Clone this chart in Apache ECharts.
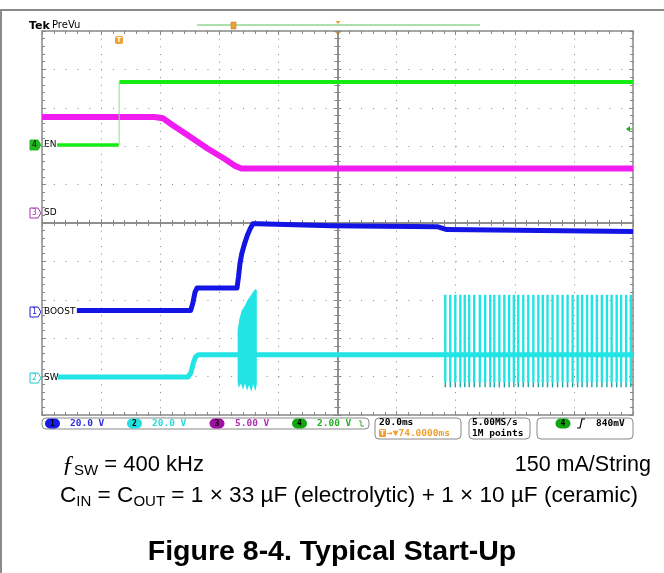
<!DOCTYPE html>
<html>
<head>
<meta charset="utf-8">
<script src="https://cdn.jsdelivr.net/npm/echarts@6/dist/echarts.min.js"></script>
<style>
html, body { margin: 0; padding: 0; background: #fff; }
#chart { width: 664px; height: 573px; }
</style>
</head>
<body>
<div id="chart"></div>
<script>
// x = ms from left edge of screen (20 ms/div, 10 div), y = divisions from bottom (10 div)
var enLow = [[5.1, 7.03], [26.0, 7.03]];
var enEdge = [[26.1, 7.03], [26.1, 8.67]];
var enHigh = [[26.2, 8.67], [200, 8.67]];

var sdTrace = [[0, 7.76], [38, 7.76], [40.9, 7.73], [44, 7.56], [50, 7.25], [56, 6.94],
  [62, 6.66], [65.5, 6.48], [67.5, 6.42], [100, 6.42], [200, 6.42]];

var boostTrace = [[11.8, 2.72], [50.3, 2.72], [51.0, 2.9], [51.8, 3.2], [52.5, 3.31],
  [66.0, 3.31], [66.5, 3.6], [67.0, 3.95], [67.6, 4.2], [68.5, 4.45], [69.5, 4.68],
  [70.5, 4.86], [71.4, 4.98], [73, 4.98], [98, 4.93], [134, 4.9], [137, 4.83], [200, 4.78]];

var swTrace = [[5.4, 0.99], [49.4, 0.99], [50.4, 1.1], [51.2, 1.35], [52.0, 1.52],
  [53, 1.57], [200, 1.57]];

var swBurstTop = [[66.2, 2.2], [66.8, 2.5], [67.6, 2.72], [68.7, 2.85], [69.6, 3.0],
  [70.4, 3.08], [71.4, 3.2], [72.2, 3.28], [72.7, 3.25]];
var swBurstBottom = [[72.7, 0.8], [72.2, 0.62], [71.5, 0.8], [70.8, 0.6], [70.1, 0.78],
  [69.4, 0.64], [68.7, 0.82], [68.0, 0.66], [67.3, 0.82], [66.6, 0.7], [66.2, 0.86]];

var swPulseTimes = [136.4, 138.1, 139.8, 141.5, 143.0, 144.5, 146.2, 148.1, 149.9, 151.6,
  153.0, 154.7, 156.4, 158.0, 159.6, 161.1, 162.8, 164.5, 166.2, 167.9, 169.4, 171.0,
  172.7, 174.4, 176.1, 177.8, 179.5, 181.2, 182.7, 184.4, 186.0, 187.7, 189.4, 191.1,
  192.7, 194.4, 195.9, 197.6, 199.2];
var swPulseLevels = [0.85, 3.13];

var frameColor = "#888";

function xFrame(pos, offset, inside, split) {
  return {
    type: "value", min: 0, max: 200, interval: 20, position: pos, offset: offset,
    axisLine: { show: true, onZero: false, lineStyle: { color: frameColor, width: 1.5 } },
    axisTick: { show: true, inside: inside, length: 4, lineStyle: { color: frameColor } },
    minorTick: { show: true, splitNumber: 5, length: 3, lineStyle: { color: frameColor } },
    axisLabel: { show: false },
    splitLine: { show: split, lineStyle: { color: "#8c8c8c", width: 1, type: [1, 6.68] } },
  };
}
function yFrame(pos, offset, inside, split) {
  return {
    type: "value", min: 0, max: 10, interval: 1, position: pos, offset: offset,
    axisLine: { show: true, onZero: false, lineStyle: { color: frameColor, width: 1.5 } },
    axisTick: { show: true, inside: inside, length: 4, lineStyle: { color: frameColor } },
    minorTick: { show: true, splitNumber: 5, length: 3, lineStyle: { color: frameColor } },
    axisLabel: { show: false },
    splitLine: { show: split, lineStyle: { color: "#8c8c8c", width: 1, type: [1, 10.82] } },
  };
}

function trace(data, color, width, z) {
  return {
    type: "line", data: data, symbol: "none", silent: true, z: z,
    lineStyle: { color: color, width: width, join: "round" },
  };
}

function chMarker(num, y, color, filled) {
  return {
    type: "group",
    children: [
      { type: "polygon", shape: { points: [[30, y - 5], [38, y - 5], [41, y], [38, y + 5], [30, y + 5]] },
        style: { fill: filled ? color : "#fff", stroke: color, lineWidth: 1 } },
      { type: "text", x: 34.5, y: y, style: { text: num, fill: filled ? "#000" : color,
        font: "8px DejaVu Sans Mono", align: "center", verticalAlign: "middle" } },
    ],
  };
}
function chLabel(txt, y) {
  return { type: "text", x: 44, y: y, style: { text: txt, fill: "#000",
    font: "9px DejaVu Sans", verticalAlign: "middle" } };
}
function box(x, y, w, h) {
  return { type: "rect", shape: { x: x, y: y, width: w, height: h, r: 4 },
    style: { fill: "#fff", stroke: "#888", lineWidth: 1 } };
}
function pill(num, cx, cy, color) {
  return {
    type: "group",
    children: [
      { type: "rect", shape: { x: cx - 7.5, y: cy - 5, width: 15, height: 10, r: 5 }, style: { fill: color } },
      { type: "text", x: cx, y: cy, style: { text: num, fill: "#000", font: "bold 8px DejaVu Sans Mono",
        align: "center", verticalAlign: "middle" } },
    ],
  };
}
function stat(txt, x, y, color) {
  return { type: "text", x: x, y: y, style: { text: txt, fill: color,
    font: "bold 9.5px DejaVu Sans Mono", verticalAlign: "middle" } };
}

var chart = echarts.init(document.getElementById("chart"));
chart.setOption({
  animation: false,
  backgroundColor: "#fff",
  grid: { left: 42, top: 31, width: 591, height: 384, outerBoundsMode: "none" },
  xAxis: [
    xFrame("bottom", 0, true, true),
    xFrame("top", 0, true, false),
    xFrame("bottom", -192, true, false),
    xFrame("bottom", -192, false, false),
  ],
  yAxis: [
    yFrame("left", 0, true, true),
    yFrame("right", 0, true, false),
    yFrame("left", -295.5, true, false),
    yFrame("left", -295.5, false, false),
  ],
  series: [
    trace(sdTrace, "#f01cf0", 6, 2),
    trace(enLow, "#14ec14", 3.5, 3),
    trace(enEdge, "#86e486", 1, 3),
    trace(enHigh, "#14ec14", 4, 3),
    trace(boostTrace, "#1414e4", 5, 4),
    trace(swTrace, "#22e4e4", 5, 5),
    {
      type: "custom", silent: true, z: 5, data: [[0, 0]],
      renderItem: function (params, api) {
        var pts = swBurstTop.concat(swBurstBottom).map(function (p) { return api.coord(p); });
        return { type: "polygon", shape: { points: pts }, style: { fill: "#22e4e4" } };
      },
    },
    {
      type: "custom", silent: true, z: 5,
      data: swPulseTimes.map(function (t) { return [t, 0]; }),
      renderItem: function (params, api) {
        var t = api.value(0);
        var top = api.coord([t, swPulseLevels[1]]);
        var bot = api.coord([t, swPulseLevels[0]]);
        return {
          type: "group",
          children: [
            { type: "rect", shape: { x: top[0] - 1, y: top[1], width: 2.4, height: bot[1] - top[1] },
              style: { fill: "#22e4e4" } },
            { type: "rect", shape: { x: top[0] - 0.5, y: bot[1], width: 1.4, height: 5 },
              style: { fill: "#12a6a6" } },
          ],
        };
      },
    },
  ],
  graphic: [
    // page frame
    { type: "line", shape: { x1: 0, y1: 10, x2: 664, y2: 10 }, style: { stroke: "#8a8a8a", lineWidth: 2 } },
    { type: "line", shape: { x1: 1, y1: 10, x2: 1, y2: 573 }, style: { stroke: "#8a8a8a", lineWidth: 2 } },
    // header
    { type: "text", x: 29, y: 26, style: { text: "Tek", fill: "#000", font: "bold 11px DejaVu Sans", verticalAlign: "middle" } },
    { type: "text", x: 52, y: 25, style: { text: "PreVu", fill: "#000", font: "10px DejaVu Sans", verticalAlign: "middle" } },
    { type: "line", shape: { x1: 197, y1: 25, x2: 480, y2: 25 }, style: { stroke: "#5cc05c", lineWidth: 1 } },
    { type: "rect", shape: { x: 231, y: 22, width: 5, height: 7 }, style: { fill: "#f0a030", stroke: "#c07010", lineWidth: 0.5 } },
    { type: "polygon", shape: { points: [[335.5, 21], [340.5, 21], [338, 24]] }, style: { fill: "#f0a030" } },
    { type: "polygon", shape: { points: [[334, 31], [342, 31], [338, 35]] }, style: { fill: "#f0a030" } },
    { type: "rect", shape: { x: 115, y: 36, width: 8, height: 8, r: 2 }, style: { fill: "#f0a030" } },
    { type: "text", x: 119, y: 40, style: { text: "T", fill: "#fff", font: "bold 7px DejaVu Sans", align: "center", verticalAlign: "middle" } },
    // trigger level arrow
    { type: "polygon", shape: { points: [[626, 129], [630, 126], [630, 132]] }, style: { fill: "#22aa22" } },
    { type: "line", shape: { x1: 630, y1: 129, x2: 633, y2: 129 }, style: { stroke: "#22aa22", lineWidth: 1 } },
    // channel markers
    chMarker("4", 145, "#22b822", true),
    chLabel("EN", 145),
    chMarker("3", 213, "#b030b0", false),
    chLabel("SD", 213),
    chMarker("1", 312, "#2020d0", false),
    chLabel("BOOST", 312),
    chMarker("2", 378, "#20c8c8", false),
    chLabel("SW", 378),
    // status bar
    box(42, 418, 327, 11),
    pill("1", 52.5, 423.5, "#1a1ae8"),
    stat("20.0 V", 70, 424, "#3030e0"),
    pill("2", 134.5, 423.5, "#22dede"),
    stat("20.0 V", 152, 424, "#30d8d8"),
    pill("3", 217, 423.5, "#a010a0"),
    stat("5.00 V", 235, 424, "#b030b0"),
    pill("4", 299.5, 423.5, "#11a611"),
    stat("2.00 V", 317, 424, "#22b022"),
    { type: "polyline", shape: { points: [[359, 421], [361, 421], [361, 426], [364, 426]] }, style: { stroke: "#22b022", lineWidth: 1, fill: null } },
    box(375, 418, 86, 21),
    stat("20.0ms", 379, 423, "#000"),
    { type: "rect", shape: { x: 379, y: 429, width: 7, height: 8, r: 1 }, style: { fill: "#f0a030" } },
    { type: "text", x: 382.5, y: 433, style: { text: "T", fill: "#fff", font: "bold 7px DejaVu Sans", align: "center", verticalAlign: "middle" } },
    stat("\u2192\u25bc74.0000ms", 387, 433.5, "#f0a030"),
    box(469, 418, 61, 21),
    stat("5.00MS/s", 472, 423, "#000"),
    stat("1M points", 472, 433.5, "#000"),
    box(537, 418, 96, 21),
    pill("4", 563, 423.5, "#11a611"),
    { type: "polyline", shape: { points: [[577, 428], [580, 428], [582, 419], [585, 419]] }, style: { stroke: "#000", lineWidth: 1.2, fill: null } },
    stat("840mV", 596, 423.5, "#000"),
    // captions
    { type: "text", x: 62, y: 465, style: {
      text: "{i|\u0192}{s|SW}{n| = 400 kHz}", verticalAlign: "middle",
      rich: {
        i: { fontFamily: "Liberation Serif", fontStyle: "italic", fontSize: 24, lineHeight: 26, fill: "#000" },
        s: { fontFamily: "Liberation Sans", fontSize: 15, lineHeight: 15, verticalAlign: "bottom", fill: "#000" },
        n: { fontFamily: "Liberation Sans", fontSize: 22, lineHeight: 26, fill: "#000" },
      } } },
    { type: "text", x: 651, y: 465, style: { text: "150 mA/String", fill: "#000",
      font: "21.5px Liberation Sans", align: "right", verticalAlign: "middle" } },
    { type: "text", x: 60, y: 496, style: {
      text: "{n|C}{s|IN}{n| = C}{s|OUT}{n| = 1 \u00d7 33 \u00b5F (electrolytic) + 1 \u00d7 10 \u00b5F (ceramic)}",
      verticalAlign: "middle",
      rich: {
        s: { fontFamily: "Liberation Sans", fontSize: 15, lineHeight: 15, verticalAlign: "bottom", fill: "#000" },
        n: { fontFamily: "Liberation Sans", fontSize: 22.6, lineHeight: 26, fill: "#000" },
      } } },
    { type: "text", x: 332, y: 552, style: { text: "Figure 8-4. Typical Start-Up", fill: "#000",
      font: "bold 28.5px Liberation Sans", align: "center", verticalAlign: "middle" } },
  ],
});
</script>
</body>
</html>
